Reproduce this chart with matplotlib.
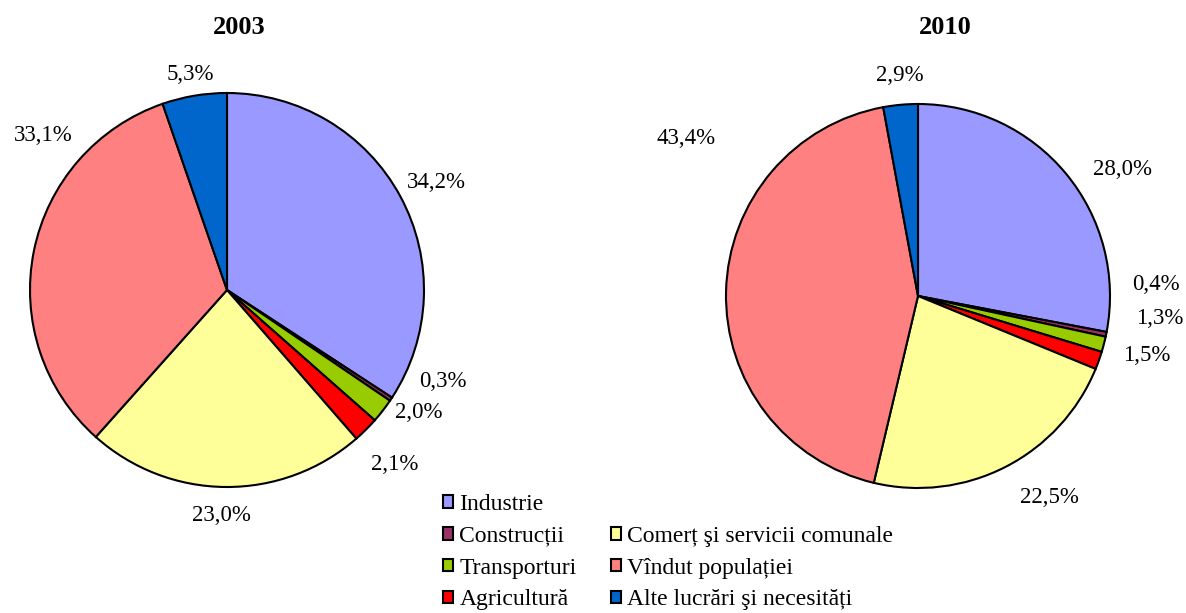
import numpy as np
import matplotlib.pyplot as plt
from matplotlib.patches import Patch

plt.rcParams['font.family'] = ['Liberation Serif', 'DejaVu Serif']

categorii = ['Industrie', 'Construcții', 'Transporturi', 'Agricultură',
             'Comerț şi servicii comunale', 'Vîndut populației', 'Alte lucrări şi necesități']
culori = ['#9999FF', '#993366', '#99CC00', '#FF0000', '#FFFF99', '#FF8080', '#0066CC']

ani = ['2003', '2010']
valori_2003 = [34.2, 0.3, 2.0, 2.1, 23.0, 33.1, 5.3]
valori_2010 = [28.0, 0.4, 1.3, 1.5, 22.5, 43.4, 2.9]

# deplasari etichete (pixeli, x dreapta / y jos) fata de pozitia de pe raza
nudge_2003 = [(10, 1), (27, -34), (12, -17), (8, 13), (-4, -1), (39, -110), (1, 8)]
nudge_2010 = [(33, 15), (20, -56), (27, -33), (20, -15), (30, 4), (-10, -152), (2, 1)]

W, H = 1186, 613
fig = plt.figure(figsize=(W / 100, H / 100), dpi=100)


def plot_pie(valori, nudges, cx, cy, r):
    s = 1.5 * r
    ax = fig.add_axes([(cx - s) / W, 1 - (cy + s) / H, 2 * s / W, 2 * s / H])
    wedges, _ = ax.pie(valori, colors=culori, startangle=90, counterclock=False,
                       radius=1, wedgeprops=dict(edgecolor='black', linewidth=1.5))
    ax.set_xlim(-1.5, 1.5)
    ax.set_ylim(-1.5, 1.5)
    ax.set_aspect('equal')
    ax.axis('off')
    k = (r + 30) / r
    for w, v, (dx, dy) in zip(wedges, valori, nudges):
        th = np.deg2rad((w.theta1 + w.theta2) / 2)
        ax.annotate(f'{v:.1f}%'.replace('.', ','), xy=(k * np.cos(th), k * np.sin(th)),
                    xytext=(dx, -dy), textcoords='offset pixels',
                    ha='center', va='center', fontsize=16.5, annotation_clip=False)
    return ax


plot_pie(valori_2003, nudge_2003, 227, 290, 197)
plot_pie(valori_2010, nudge_2010, 918, 296, 192)

fig.text(239 / W, 1 - 28 / H, ani[0], ha='center', va='center', fontsize=19, fontweight='bold')
fig.text(945 / W, 1 - 28 / H, ani[1], ha='center', va='center', fontsize=19, fontweight='bold')

handles = [Patch(facecolor=c, edgecolor='black', linewidth=1.5) for c in culori]
labels = list(categorii)
gol = Patch(facecolor='none', edgecolor='none')
handles = handles[:4] + [gol] + handles[4:]
labels = labels[:4] + [''] + labels[4:]
fig.legend(handles, labels, ncol=2, loc='upper left', bbox_to_anchor=(431 / W, 1 - 482 / H),
           frameon=False, fontsize=17, handlelength=0.45, handleheight=0.45,
           handletextpad=0.25, columnspacing=1.45, labelspacing=0.46, borderpad=0)

fig.savefig('out.png', dpi=100)
